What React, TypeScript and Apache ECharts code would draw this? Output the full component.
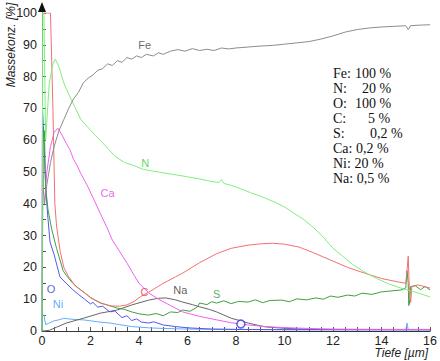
import React, { useEffect, useRef } from "react";
import * as echarts from "echarts";

type P = [number, number];

const xTicks = [0, 2, 4, 6, 8, 10, 12, 14, 16];
const yTicks = [0, 10, 20, 30, 40, 50, 60, 70, 80, 90, 100];

const fe: P[] = [[0.1,40],[0.2,46],[0.35,53],[0.5,58],[0.7,63],[0.9,66.5],[1.1,70],[1.3,73],[1.5,75],[1.7,78],[1.9,79.5],[2.1,80.5],[2.3,82],[2.5,82.5],[2.7,84],[2.9,83.5],[3.1,85],[3.3,84.5],[3.5,86],[3.7,85.5],[3.9,86.5],[4.1,86],[4.3,87],[4.6,86.5],[4.8,87.5],[5.0,87],[5.3,88],[5.6,88.5],[5.9,88],[6.2,88.8],[6.5,88.2],[6.8,88.6],[7.1,88.2],[7.4,89],[7.7,88.7],[8.0,89],[8.5,89.3],[9.0,89.6],[9.5,89.8],[10,90.2],[10.5,90.6],[11,91],[11.5,91.8],[12,92.8],[12.5,94],[13,94.8],[13.5,95.3],[14,95.6],[14.5,95.8],[15,96],[15.1,94.8],[15.2,96],[15.6,96.2],[16,96.3]];

const n: P[] = [[0,0],[0.03,100],[0.08,100],[0.15,60],[0.3,78],[0.45,84],[0.55,85.5],[0.7,83],[0.9,78],[1.1,74.5],[1.35,70.5],[1.6,66.5],[1.9,64],[2.2,61.5],[2.4,60],[2.7,57.5],[3.0,55],[3.4,53],[3.8,52],[4.1,51],[4.4,50.5],[4.8,50],[5.2,49.5],[5.6,49],[6.0,48.5],[6.5,47.8],[7.0,47],[7.3,46.7],[7.4,47.6],[7.5,46.4],[7.8,45.8],[8.1,45],[8.6,43.5],[9.2,41.8],[9.6,40.5],[10.0,39],[10.4,37],[10.8,35],[11.2,32.5],[11.6,29.5],[12.0,26],[12.4,23.5],[12.8,21],[13.3,18.5],[13.8,16.5],[14.3,14.8],[14.8,13.5],[15.1,12.8],[15.5,12],[16,10.7]];

const c: P[] = [[0,100],[0.35,100],[0.45,70],[0.53,40],[0.6,33],[0.75,25],[0.9,20],[1.1,17],[1.4,14],[1.75,12],[2.1,10],[2.5,8.6],[2.8,7.9],[3.2,7.8],[3.5,8.2],[3.8,9.3],[4.1,11],[4.4,12.2],[5.0,15],[5.5,17],[5.8,18.2],[6.5,21.5],[7.2,24.3],[7.8,26],[8.5,27],[9.0,27.4],[9.5,27.6],[10.0,27.3],[10.6,26.4],[11.2,24.6],[11.9,22.3],[12.6,20],[13.3,18.2],[14.0,16.5],[14.7,15.4],[15.0,15],[15.05,19],[15.1,23.5],[15.15,12],[15.2,9],[15.25,14],[15.5,14.5],[16,13.5]];

const s: P[] = [[0,0],[0.05,63],[0.1,63],[0.15,45],[0.25,38],[0.4,32],[0.6,26],[0.87,19],[1.0,17.5],[1.27,15],[1.5,13.5],[1.76,12],[2.0,10.5],[2.4,8.8],[2.7,8.2],[3.1,7.2],[3.4,6.8],[3.7,6],[4.0,5.4],[4.4,5],[4.7,5.5],[5.0,4.8],[5.3,6],[5.6,5.8],[5.8,6.6],[6.1,6.2],[6.4,7.5],[6.5,8.8],[6.8,8.3],[7.0,9.2],[7.2,8.8],[7.5,9.5],[7.8,8.6],[8.1,9.3],[8.5,9.1],[8.8,9.8],[9.1,8.9],[9.4,9.6],[9.9,9.7],[10.2,9.2],[10.5,10.1],[10.9,9.8],[11.3,10.4],[11.6,10],[11.9,11],[12.2,10.6],[12.6,11.3],[12.9,11],[13.2,11.9],[13.6,11.5],[14.0,12.3],[14.4,12.6],[14.8,12.9],[15.0,13.5],[15.05,19],[15.1,15],[15.12,8],[15.15,8.5],[15.2,14],[15.4,14.2],[15.6,13],[15.8,14],[16,12.9]];

const o: P[] = [[0,0],[0.02,70],[0.08,60],[0.15,45],[0.25,35],[0.33,28],[0.5,24],[0.74,17],[1.0,15],[1.27,13],[1.5,11.5],[1.76,10],[2.0,8.5],[2.1,9],[2.3,7.5],[2.5,7.8],[2.8,6],[3.0,6.3],[3.3,4.2],[3.5,4.8],[3.7,3.3],[3.9,3.8],[4.1,2.8],[4.4,2.5],[4.6,2.9],[5.0,1.9],[5.5,1.4],[6.0,1],[7,0.6],[8,0.5],[10,0.4],[12,0.4],[14,0.4],[16,0.4]];

const ca: P[] = [[0,0],[0.02,62],[0.05,45],[0.1,40],[0.2,50],[0.35,58],[0.5,62.5],[0.65,63.8],[0.8,62],[1.0,59],[1.15,57],[1.3,54],[1.45,52],[1.6,49.5],[1.85,46],[2.1,42],[2.4,37],[2.65,33],[2.9,28.6],[3.2,25],[3.5,21.4],[3.8,17.5],[4.0,15],[4.2,13.5],[4.4,12],[4.8,10],[5.3,8],[5.8,6],[6.5,4.6],[7.2,3.5],[7.8,2.6],[8.5,1.9],[9.2,1.4],[9.9,1.1],[11,0.8],[12,0.6],[14,0.5],[16,0.5]];

const ni: P[] = [[0,0],[0.02,5],[0.08,5],[0.15,2],[0.3,2.5],[0.5,3.2],[0.7,3.5],[0.9,4],[1.1,3.8],[1.4,3.6],[1.7,3.5],[2.0,3.2],[2.4,2.8],[2.8,2.5],[3.2,2],[3.7,1.4],[4.4,1],[5,0.8],[6,0.6],[8,0.5],[12,0.4],[15.0,0.4],[15.05,2.5],[15.1,0.4],[16,0.4]];

const na: P[] = [[0,0],[0.3,0.2],[0.6,1.2],[1.0,2.5],[1.7,4],[2.4,5.6],[3.1,6.6],[3.7,8.2],[4.4,9.7],[4.8,10.3],[5.1,10.4],[5.5,9.8],[5.8,9.1],[6.2,8.3],[6.5,7.6],[6.9,6.8],[7.2,6],[7.5,5],[7.8,4],[8.2,3.2],[8.5,2.5],[8.9,1.8],[9.2,1.3],[9.9,0.9],[11,0.5],[16,0.4]];

const seriesNames = ["Ni", "Na", "O", "Ca", "S", "C", "N", "Fe"];
const seriesData = [ni, na, o, ca, s, c, n, fe];
const seriesColors = ["#66aaff", "#666666", "#5555ee", "#f060f0", "#40a040", "#f27070", "#80ee80", "#8c8c8c"];

const labelNames = ["Fe", "N", "Ca", "C", "O", "Ni", "Na", "S"];
const labelPos: P[] = [[4.23, 90], [4.26, 52.8], [2.7, 43.4], [4.22, 12.3], [0.37, 13.2], [0.66, 8.5], [5.7, 12.9], [7.2, 11.6]];
const labelColors = ["#444444", "#33cc33", "#e040e0", "#ee3333", "#3333dd", "#3399ff", "#333333", "#339933"];

const markerPoint: P[] = [[8.2, 2.2]];

const legendLabels = ["Fe:", "N:", "O:", "C:", "S:", "Ca: 0,2 %", "Ni: 20 %", "Na: 0,5 %"];
const legendValues = ["100 %", "20 %", "100 %", "5 %", "0,2 %", "", "", ""];
const legendValueX = [355, 362, 355, 368, 370, 0, 0, 0];

export default function App() {
  const ref = useRef<HTMLDivElement>(null);
  useEffect(() => {
    if (!ref.current) return;
    const chart = echarts.init(ref.current, undefined, { renderer: "svg" });
    const series: any[] = seriesData.map((d, i) => ({
      name: seriesNames[i],
      type: "line",
      data: d,
      showSymbol: false,
      symbol: "none",
      lineStyle: { width: 1, color: seriesColors[i] },
      itemStyle: { color: seriesColors[i] },
      z: 2,
    }));
    series.push({
      type: "scatter",
      symbolSize: 0,
      data: labelPos.map((p, i) => ({
        value: p,
        label: {
          show: true,
          position: "inside",
          formatter: labelNames[i],
          color: labelColors[i],
          fontFamily: "Liberation Sans, Arial, sans-serif",
          fontSize: 11,
        },
      })),
      z: 5,
    });
    series.push({
      type: "scatter",
      symbol: "circle",
      symbolSize: 8,
      data: markerPoint,
      itemStyle: { color: "#ffffff", borderColor: "#3333dd", borderWidth: 1.5 },
      z: 6,
    });

    const graphics: any[] = [
      { type: "polygon", shape: { points: [[38, 12], [46, 12], [42, 2]] }, style: { fill: "#111" }, z: 10 },
      {
        type: "text", x: 11, y: 45, rotation: Math.PI / 2,
        style: { text: "Massekonz. [%]", font: "italic 12px 'Liberation Sans', Arial, sans-serif", fill: "#222", align: "center", verticalAlign: "middle" },
      },
      {
        type: "text", x: 428, y: 353,
        style: { text: "Tiefe [µm]", font: "italic 12px 'Liberation Sans', Arial, sans-serif", fill: "#222", align: "right", verticalAlign: "middle" },
      },
    ];
    legendLabels.forEach((t, i) => {
      const y = 73 + i * 15.1;
      graphics.push({
        type: "text", x: 333, y,
        style: { text: t, font: "14px 'Liberation Serif', 'Times New Roman', serif", fill: "#111", verticalAlign: "middle" },
      });
      if (legendValues[i]) {
        graphics.push({
          type: "text", x: legendValueX[i], y,
          style: { text: legendValues[i], font: "14px 'Liberation Serif', 'Times New Roman', serif", fill: "#111", verticalAlign: "middle" },
        });
      }
    });

    const axisText = { color: "#222", fontSize: 12.5, fontFamily: "Liberation Sans, Arial, sans-serif" };
    chart.setOption({
      animation: false,
      backgroundColor: "#ffffff",
      grid: { left: 42, right: 8, top: 13, bottom: 30 },
      xAxis: {
        type: "value",
        min: xTicks[0],
        max: xTicks[xTicks.length - 1],
        interval: 2,
        axisLine: { show: true, lineStyle: { color: "#333", width: 1 } },
        axisTick: { show: true, inside: true, length: 4, lineStyle: { color: "#555" } },
        minorTick: { show: true, splitNumber: 4, length: 4, lineStyle: { color: "#555" } },
        splitLine: { show: false },
        axisLabel: { ...axisText, margin: 3, formatter: (v: number) => (xTicks.includes(v) ? String(v) : "") },
      },
      yAxis: {
        type: "value",
        min: yTicks[0],
        max: yTicks[yTicks.length - 1],
        interval: 10,
        axisLine: { show: true, lineStyle: { color: "#333", width: 1 } },
        axisTick: { show: true, inside: true, length: 4, lineStyle: { color: "#555" } },
        minorTick: { show: true, splitNumber: 2, length: 4, lineStyle: { color: "#555" } },
        splitLine: { show: false },
        axisLabel: { ...axisText, margin: 5, formatter: (v: number) => (yTicks.includes(v) ? String(v) : "") },
      },
      series,
      graphic: graphics,
    });
    return () => chart.dispose();
  }, []);
  return <div ref={ref} style={{ position: "fixed", left: 0, top: 0, width: 440, height: 361 }} />;
}
